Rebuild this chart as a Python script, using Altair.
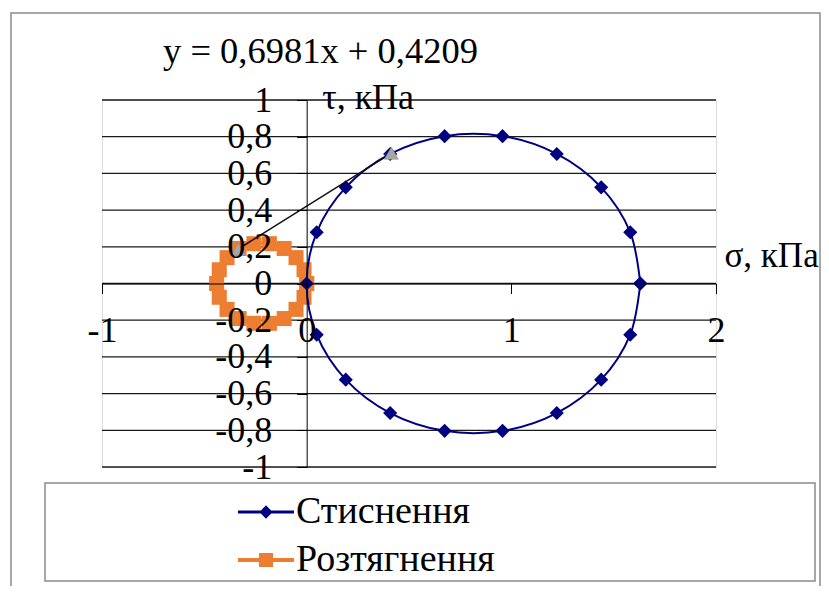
import altair as alt
import pandas as pd

# ---- data ----
series_names = ["Стиснення", "Розтягнення"]
series_colors = ["#000080", "#ED7D31"]

# Стиснення (compression) Mohr circle points
s_sigma = [1.630, 1.581, 1.439, 1.222, 0.957, 0.674, 0.408, 0.191, 0.049, 0.000,
           0.049, 0.191, 0.408, 0.674, 0.957, 1.222, 1.439, 1.581, 1.630]
s_tau = [0.000, 0.279, 0.524, 0.706, 0.803, 0.803, 0.706, 0.524, 0.279, 0.000,
         -0.279, -0.524, -0.706, -0.803, -0.803, -0.706, -0.524, -0.279, 0.000]

# Розтягнення (tension) Mohr circle points
r_sigma = [0.000, -0.013, -0.052, -0.110, -0.182, -0.258, -0.330, -0.389, -0.427, -0.440,
           -0.427, -0.389, -0.330, -0.258, -0.182, -0.110, -0.052, -0.013, 0.000]
r_tau = [0.000, 0.075, 0.141, 0.191, 0.217, 0.217, 0.191, 0.141, 0.075, 0.000,
         -0.075, -0.141, -0.191, -0.217, -0.217, -0.191, -0.141, -0.075, 0.000]

# tangent (envelope) line
t_sigma = [-0.334, 0.414]
t_tau = [0.188, 0.710]
trend_label = ["y = 0,6981x + 0,4209"]

x_ticks = [-1, 0, 1, 2]
y_ticks = [-1, -0.8, -0.6, -0.4, -0.2, 0, 0.2, 0.4, 0.6, 0.8, 1]

# ---- tables ----
df_s = pd.DataFrame({"sigma": s_sigma, "tau": s_tau, "i": range(len(s_sigma)), "series": series_names[0]})
df_r = pd.DataFrame({"sigma": r_sigma, "tau": r_tau, "i": range(len(r_sigma)), "series": series_names[1]})
df_t = pd.DataFrame({"sigma": t_sigma, "tau": t_tau, "i": range(len(t_sigma))})
df_all = pd.concat([df_s, df_r], ignore_index=True)
df_grid = pd.DataFrame({"tau": y_ticks})
df_label = pd.DataFrame({"label": trend_label})
df_one = pd.DataFrame({"k": [0]})

W, H = 614, 367
FONT = "Liberation Serif"

xscale = alt.Scale(domain=[-1, 2], nice=False, zero=False)
yscale = alt.Scale(domain=[-1, 1], nice=False, zero=False)

label_expr = "replace(replace(format(datum.value, '~g'), '.', ','), '−', '-')"

xaxis = alt.Axis(
    values=x_ticks, offset=-H / 2, grid=False,
    domainColor="black", domainWidth=1, tickColor="black", tickSize=10, tickWidth=1,
    labelFont=FONT, labelFontSize=36, labelColor="black", labelPadding=20,
    labelExpr=label_expr, labelOverlap=False, labelFlush=False,
    title="σ, кПа", titleFont=FONT, titleFontSize=35, titleFontWeight="normal",
    titleColor="black", titleX=622, titleY=-17, titleAlign="left",
    titleBaseline="alphabetic", titleAngle=0, zindex=1,
)
yaxis = alt.Axis(
    values=y_ticks, offset=-W / 3, grid=False,
    domainColor="black", domainWidth=1, tickColor="black", tickSize=10, tickWidth=1,
    labelFont=FONT, labelFontSize=36, labelColor="black", labelPadding=25,
    labelExpr=label_expr, labelOverlap=False, labelFlush=False,
    title="τ,  кПа", titleFont=FONT, titleFontSize=36, titleFontWeight="normal",
    titleColor="black", titleX=15, titleY=8, titleAlign="left",
    titleBaseline="alphabetic", titleAngle=0, zindex=1,
)

X = alt.X("sigma:Q", scale=xscale, axis=xaxis)
Y = alt.Y("tau:Q", scale=yscale, axis=yaxis)

grid = alt.Chart(df_grid).mark_rule(color="#1a1a1a", strokeWidth=1.3).encode(y=Y)

orange_line = alt.Chart(df_r).mark_line(color=series_colors[1], strokeWidth=3, interpolate="cardinal").encode(
    x=X, y=Y, order="i:Q")
orange_pts = alt.Chart(df_r).mark_point(shape="square", filled=True, size=225, opacity=1,
                                        color=series_colors[1]).encode(x=X, y=Y)
blue_line = alt.Chart(df_s).mark_line(color=series_colors[0], strokeWidth=2, interpolate="cardinal").encode(
    x=X, y=Y, order="i:Q")
blue_pts = alt.Chart(df_s).mark_point(shape="diamond", filled=True, size=200, opacity=1,
                                      color=series_colors[0]).encode(x=X, y=Y)
tan_line = alt.Chart(df_t).mark_line(color="#111111", strokeWidth=1.5).encode(x=X, y=Y, order="i:Q")
tan_pts = alt.Chart(df_t).mark_point(shape="triangle-up", filled=True, size=200, opacity=1,
                                     color="#A6A6A6", stroke="#8c8c8c", strokeWidth=0.5).encode(x=X, y=Y)

trend_text = alt.Chart(df_label).mark_text(align="left", baseline="alphabetic", font=FONT,
                                           fontSize=36.5, color="black").encode(
    x=alt.value(61), y=alt.value(-37), text="label:N")

outer_box = alt.Chart(df_one).mark_rect(fillOpacity=0, stroke="#8a8a8a", strokeWidth=1.5).encode(
    x=alt.value(-91), x2=alt.value(718), y=alt.value(-87), y2=alt.value(520))
legend_box = alt.Chart(df_one).mark_rect(fillOpacity=0, stroke="#8a8a8a", strokeWidth=1.5).encode(
    x=alt.value(-57), x2=alt.value(713), y=alt.value(383), y2=alt.value(481))

blue_sym = "M-4,-0.2H4V0.2H-4Z M0,-0.95L0.95,0L0,0.95L-0.95,0Z"
orange_sym = "M-4,-0.28H4V0.28H-4Z M-1,-1H1V1H-1Z"

legend_layer = alt.Chart(df_all).transform_filter("false").mark_point(filled=True, opacity=1, size=196).encode(
    x=X, y=Y,
    color=alt.Color("series:N", scale=alt.Scale(domain=series_names, range=series_colors),
                    legend=alt.Legend(orient="none", legendX=145, legendY=393, title=None,
                                      direction="vertical", padding=0,
                                      labelFont=FONT, labelFontSize=38, labelColor="black",
                                      labelOffset=11, labelLimit=500,
                                      symbolSize=196, symbolStrokeWidth=0, rowPadding=10)),
    shape=alt.Shape("series:N", scale=alt.Scale(domain=series_names, range=[blue_sym, orange_sym])),
)

chart = alt.layer(
    outer_box, legend_box, grid, orange_line, orange_pts, blue_line, blue_pts,
    tan_line, tan_pts, trend_text, legend_layer,
).properties(
    width=W, height=H,
    autosize=alt.AutoSizeParams(type="none"),
    padding={"left": 94, "top": 92, "right": 105, "bottom": 119},
).configure_view(stroke="#808080", strokeWidth=2.5).configure(background="white")

chart.save("out.html", embed_options={"renderer": "svg", "actions": False})
